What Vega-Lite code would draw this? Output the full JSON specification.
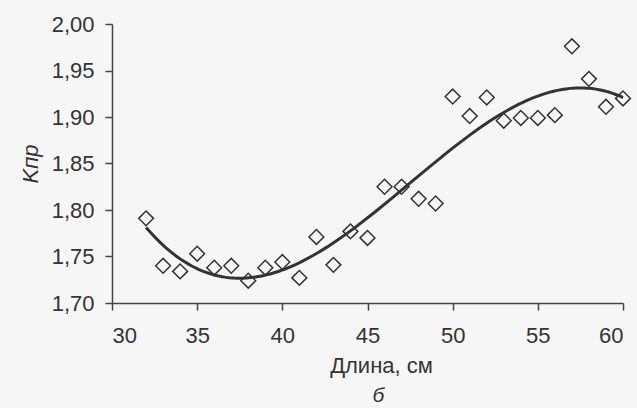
{
  "$schema": "https://vega.github.io/schema/vega-lite/v6.json",
  "width": 511,
  "height": 279,
  "autosize": {"type": "none"},
  "padding": {"left": 112, "top": 24, "right": 14, "bottom": 105},
  "background": "#f6f6f6",
  "title": {"text": "б", "orient": "bottom", "anchor": "middle", "fontStyle": "italic", "font": "Liberation Sans", "fontSize": 21, "fontWeight": "normal", "color": "#333333", "offset": 9, "dx": 11},
  "config": {"view": {"stroke": null}, "axis": {"grid": false, "domainColor": "#444444", "tickColor": "#444444", "labelColor": "#333333", "titleColor": "#333333", "labelFont": "Liberation Sans", "titleFont": "Liberation Sans", "labelFontSize": 22, "titleFontSize": 22, "titleFontWeight": "normal", "domainWidth": 1.5, "tickWidth": 1.5, "tickSize": 7}},
  "data": {"values": [
    {"x": 32, "y": 1.791}, {"x": 33, "y": 1.740}, {"x": 34, "y": 1.734}, {"x": 35, "y": 1.753},
    {"x": 36, "y": 1.738}, {"x": 37, "y": 1.740}, {"x": 38, "y": 1.724}, {"x": 39, "y": 1.738},
    {"x": 40, "y": 1.744}, {"x": 41, "y": 1.727}, {"x": 42, "y": 1.771}, {"x": 43, "y": 1.741},
    {"x": 44, "y": 1.777}, {"x": 45, "y": 1.770}, {"x": 46, "y": 1.825}, {"x": 47, "y": 1.825},
    {"x": 48, "y": 1.812}, {"x": 49, "y": 1.807}, {"x": 50, "y": 1.922}, {"x": 51, "y": 1.901},
    {"x": 52, "y": 1.921}, {"x": 53, "y": 1.896}, {"x": 54, "y": 1.899}, {"x": 55, "y": 1.899},
    {"x": 56, "y": 1.902}, {"x": 57, "y": 1.976}, {"x": 58, "y": 1.941}, {"x": 59, "y": 1.911},
    {"x": 60, "y": 1.920}
  ]},
  "encoding": {
    "x": {"field": "x", "type": "quantitative", "scale": {"domain": [30, 60], "nice": false, "zero": false},
      "axis": {"values": [30, 35, 40, 45, 50, 55, 60], "title": "Длина, см", "labelPadding": 15, "titlePadding": 9, "titleX": 269}},
    "y": {"field": "y", "type": "quantitative", "scale": {"domain": [1.7, 2.0], "nice": false, "zero": false},
      "axis": {"values": [1.7, 1.75, 1.8, 1.85, 1.9, 1.95, 2.0], "labelExpr": "replace(format(datum.value, '.2f'), '.', ',')", "title": "Kпр", "titleFontStyle": "italic", "labelPadding": 11, "titlePadding": 9}}
  },
  "layer": [
    {"transform": [{"regression": "y", "on": "x", "method": "poly", "order": 3, "extent": [32, 60]}],
     "mark": {"type": "line", "color": "#333333", "strokeWidth": 3}},
    {"mark": {"type": "point", "shape": "diamond", "filled": false, "size": 220, "stroke": "#333333", "strokeWidth": 1.5, "opacity": 1}}
  ]
}
